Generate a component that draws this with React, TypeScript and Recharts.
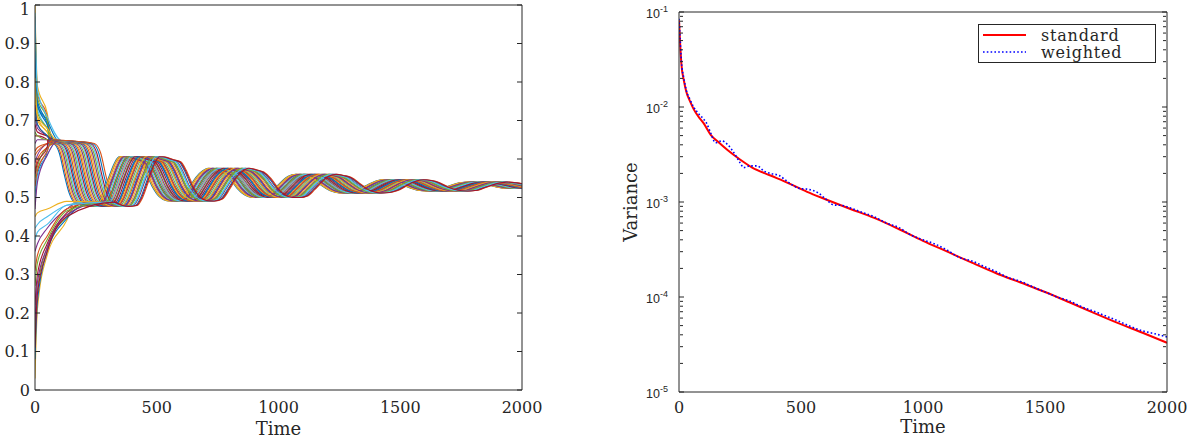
import { LineChart, Line, XAxis, YAxis, Legend } from 'recharts'

const ink = '#262626'
const serif = "'DejaVu Serif', serif"
const sans = "'Liberation Sans', Arial, sans-serif"

// MATLAB default colour order
const palette = ['#0072BD', '#D95319', '#EDB120', '#7E2F8E', '#77AC30', '#4DBEEE', '#A2142F']

const timeTicks = [0, 500, 1000, 1500, 2000]
const shareTicks = [0, 0.1, 0.2, 0.3, 0.4, 0.5, 0.6, 0.7, 0.8, 0.9, 1]
const decadeTicks = [1e-5, 1e-4, 1e-3, 1e-2, 1e-1]
const minorSteps = [2, 3, 4, 5, 6, 7, 8, 9]
const minorDecadeTicks = decadeTicks.slice(0, 4).flatMap(d => minorSteps.map(m => m * d))

// path of the first agent to switch; every other agent runs the same path later by its lag
const waveTime = [
  -170, -100, -40, 20, 60, 80, 100, 120, 140, 160,
  190, 220, 250, 270, 300, 330, 345, 365, 400, 430,
  450, 480, 510, 540, 570, 600, 630, 660, 690, 710,
  740, 770, 800, 830, 860, 890, 920, 950, 980, 1010,
  1040, 1070, 1100, 1130, 1170, 1210, 1250, 1290, 1320, 1360,
  1400, 1430, 1460, 1490, 1530, 1570, 1610, 1650, 1690, 1730,
  1770, 1810, 1850, 1890, 1930, 1970, 2000,
]
const waveValue = [
  0.652, 0.650, 0.648, 0.645, 0.642, 0.638, 0.615, 0.560, 0.512, 0.488,
  0.480, 0.477, 0.479, 0.497, 0.548, 0.594, 0.606, 0.605, 0.598, 0.592,
  0.572, 0.530, 0.502, 0.492, 0.491, 0.496, 0.522, 0.552, 0.570, 0.576,
  0.572, 0.566, 0.549, 0.524, 0.507, 0.500, 0.500, 0.504, 0.521, 0.540,
  0.555, 0.560, 0.557, 0.552, 0.534, 0.518, 0.512, 0.513, 0.518, 0.531,
  0.543, 0.546, 0.544, 0.539, 0.527, 0.519, 0.517, 0.519, 0.528, 0.536,
  0.540, 0.538, 0.534, 0.528, 0.524, 0.524, 0.526,
]

// agents that settle on the upper plateau before their first drop
const upperStart = [0.93, 0.62, 1.00, 0.71, 0.55, 0.86, 0.66, 0.51, 0.97, 0.77, 0.59, 0.84, 0.48, 0.69, 0.90, 0.57, 0.79, 0.64, 0.95, 0.52, 0.74, 0.88, 0.61, 0.81, 0.47, 0.67, 0.98, 0.56, 0.73, 0.53]
const upperAt10 = [0.74, 0.63, 0.79, 0.68, 0.58, 0.73, 0.66, 0.56, 0.77, 0.70, 0.61, 0.72, 0.55, 0.67, 0.75, 0.60, 0.71, 0.65, 0.76, 0.57, 0.69, 0.74, 0.62, 0.71, 0.54, 0.66, 0.78, 0.59, 0.69, 0.57]
const upperAt50 = [0.69, 0.64, 0.72, 0.66, 0.63, 0.68, 0.65, 0.62, 0.71, 0.67, 0.64, 0.68, 0.61, 0.66, 0.70, 0.63, 0.67, 0.65, 0.70, 0.62, 0.66, 0.69, 0.64, 0.68, 0.61, 0.65, 0.71, 0.63, 0.66, 0.62]
const upperLag = [0, 5, 11, 16, 22, 27, 33, 38, 44, 50, 55, 61, 66, 72, 78, 84, 89, 95, 101, 107, 112, 118, 124, 130, 136, 142, 148, 154, 162, 170]

// agents that start low and climb into the lower band
const lowerStart = [0.03, 0.36, 0.14, 0.42, 0.22, 0.08, 0.31, 0.45, 0.18, 0.27, 0.39, 0.11]
const lowerAt10 = [0.21, 0.38, 0.26, 0.43, 0.30, 0.23, 0.35, 0.46, 0.28, 0.33, 0.41, 0.25]
const lowerAt50 = [0.35, 0.42, 0.37, 0.45, 0.38, 0.36, 0.40, 0.47, 0.37, 0.39, 0.43, 0.36]
const lowerAt130 = [0.44, 0.47, 0.45, 0.48, 0.46, 0.445, 0.47, 0.49, 0.455, 0.465, 0.48, 0.45]
const lowerLag = [3, 19, 35, 47, 64, 80, 92, 110, 121, 139, 151, 166]

// variance of the two schemes
const standardTime = [0, 5, 10, 20, 30, 45, 60, 80, 100, 130, 160, 200, 250, 300, 375, 450, 525, 600, 700, 800, 900, 1000, 1100, 1200, 1300, 1400, 1500, 1600, 1700, 1800, 1900, 2000]
const standardVar = [0.082, 0.045, 0.028, 0.019, 0.0145, 0.0115, 0.0095, 0.0079, 0.0068, 0.0051, 0.0043, 0.0035, 0.0028, 0.0023, 0.0019, 0.00157, 0.00128, 0.00107, 0.00085, 0.00068, 0.00052, 0.00039, 0.0003, 0.00023, 0.000178, 0.000142, 0.000113, 0.000088, 0.000068, 0.000053, 0.000042, 0.000033]
const weightedTime = [0, 5, 10, 20, 30, 45, 60, 80, 100, 115, 130, 150, 175, 200, 225, 250, 265, 290, 320, 350, 375, 410, 450, 490, 535, 570, 600, 635, 670, 700, 750, 800, 850, 900, 950, 1000, 1050, 1100, 1150, 1200, 1250, 1300, 1350, 1400, 1450, 1500, 1550, 1600, 1650, 1700, 1750, 1800, 1850, 1900, 1950, 2000]
const weightedVar = [0.085, 0.05, 0.03, 0.02, 0.015, 0.012, 0.01, 0.0085, 0.0075, 0.0066, 0.0053, 0.0042, 0.0044, 0.004, 0.0033, 0.0026, 0.0023, 0.0024, 0.0024, 0.0021, 0.002, 0.0019, 0.0016, 0.0014, 0.00135, 0.00125, 0.00108, 0.00093, 0.00092, 0.00087, 0.00078, 0.0007, 0.0006, 0.00054, 0.00045, 0.0004, 0.00036, 0.00031, 0.00026, 0.00024, 0.00021, 0.000185, 0.00016, 0.000146, 0.000128, 0.000113, 0.0001, 0.000091, 0.000079, 0.000071, 0.000063, 0.000056, 0.000049, 0.000044, 0.000041, 0.000038]

const legendItems = [
  { name: 'standard', color: '#ff0000', width: 2, dash: undefined as string | undefined },
  { name: 'weighted', color: '#0000ff', width: 1.6, dash: '1.6 2.2' },
]

type Pt = { t: number; v: number }

function upperPath(i: number): Pt[] {
  const lag = upperLag[i]
  const pts: Pt[] = [
    { t: 0, v: upperStart[i] },
    { t: 10, v: upperAt10[i] },
    { t: 50, v: upperAt50[i] },
  ]
  waveTime.forEach((tau, j) => {
    if (tau + lag > 50) pts.push({ t: tau + lag, v: waveValue[j] })
  })
  return pts
}

function lowerPath(i: number): Pt[] {
  const lag = lowerLag[i]
  const pts: Pt[] = [
    { t: 0, v: lowerStart[i] },
    { t: 10, v: lowerAt10[i] },
    { t: 50, v: lowerAt50[i] },
    { t: 130, v: lowerAt130[i] },
  ]
  waveTime.forEach((tau, j) => {
    if (tau >= 160 && tau + lag > 130) pts.push({ t: tau + lag, v: waveValue[j] })
  })
  return pts
}

const agentPaths = [...upperLag.map((_, i) => upperPath(i)), ...lowerLag.map((_, i) => lowerPath(i))]

const standardSeries = standardTime.map((t, i) => ({ t, v: standardVar[i] }))
const weightedSeries = weightedTime.map((t, i) => ({ t, v: weightedVar[i] }))

const tickFont = { fill: ink, fontSize: 16, fontFamily: serif }

// tick marks only, no label
const NoLabel = () => <g />

// box around the axes with inward ticks on all four sides (mirrored axes take no room)
function frame(yTicks: number[], yDomain: number[], yScale: 'linear' | 'log', minor?: number[]) {
  const common = { allowDataOverflow: true, tick: NoLabel, interval: 0 as const, tickSize: 5, mirror: true }
  const items = [
    <XAxis key="top" xAxisId="top" orientation="top" type="number" domain={[0, 2000]} ticks={timeTicks}
      height={1} axisLine={{ stroke: ink }} tickLine={{ stroke: ink }} {...common} />,
    <XAxis key="bin" xAxisId="bin" orientation="bottom" type="number" domain={[0, 2000]} ticks={timeTicks}
      height={1} axisLine={false} tickLine={{ stroke: ink }} {...common} />,
    <YAxis key="lin" yAxisId="lin" orientation="left" type="number" scale={yScale} domain={yDomain} ticks={yTicks}
      width={1} axisLine={false} tickLine={{ stroke: ink }} {...common} />,
    <YAxis key="rin" yAxisId="rin" orientation="right" type="number" scale={yScale} domain={yDomain} ticks={yTicks}
      width={1} axisLine={{ stroke: ink }} tickLine={{ stroke: ink }} {...common} />,
  ]
  if (minor) {
    items.push(
      <YAxis key="lmin" yAxisId="lmin" orientation="left" type="number" scale={yScale} domain={yDomain} ticks={minor}
        width={1} axisLine={false} tickLine={{ stroke: ink }} {...common} tickSize={3} />,
      <YAxis key="rmin" yAxisId="rmin" orientation="right" type="number" scale={yScale} domain={yDomain} ticks={minor}
        width={1} axisLine={false} tickLine={{ stroke: ink }} {...common} tickSize={3} />,
    )
  }
  return items
}

// left labels; the top one is nudged down so it stays on the page
function ShareTick({ x, y, payload }: any) {
  return (
    <text x={x} y={Math.max(y, 9)} dy="0.355em" textAnchor="end" fill={ink} fontFamily={serif} fontSize={16}>
      {payload.value}
    </text>
  )
}

function PowerTick({ x, y, payload }: any) {
  const exp = Math.round(Math.log10(payload.value))
  return (
    <text x={x} y={y + 6} textAnchor="end" fill={ink} fontFamily={sans} fontSize={12.5}>
      10<tspan dy={-6} fontSize={9}>{exp}</tspan>
    </text>
  )
}

function VarianceLabel({ viewBox }: any) {
  const cx = viewBox.x + 30
  const cy = viewBox.y + viewBox.height / 2
  return (
    <text x={cx} y={cy} textAnchor="middle" dominantBaseline="central" transform={`rotate(-90, ${cx}, ${cy})`}
      fill={ink} fontFamily={serif} fontSize={18}>
      Variance
    </text>
  )
}

function LegendBox() {
  return (
    <svg width={178} height={39} style={{ display: 'block' }}>
      <rect x={0.5} y={0.5} width={177} height={38} fill="#fff" stroke={ink} />
      {legendItems.map((item, i) => (
        <g key={item.name}>
          <line x1={5} x2={48} y1={11 + 17 * i} y2={11 + 17 * i} stroke={item.color}
            strokeWidth={item.width} strokeDasharray={item.dash} />
          <text x={63} y={11 + 17 * i} dominantBaseline="central" fill={ink} fontFamily={serif} fontSize={16}
            letterSpacing={0.8}>
            {item.name}
          </text>
        </g>
      ))}
    </svg>
  )
}

function AgentsChart() {
  return (
    <LineChart width={560} height={444} margin={{ top: 5, right: 38, bottom: 0, left: 0 }}>
      <XAxis dataKey="t" type="number" domain={[0, 2000]} ticks={timeTicks} allowDataOverflow height={54}
        tickLine={false} tickSize={0} tickMargin={12} axisLine={{ stroke: ink }} tick={tickFont} interval={0}
        label={{ value: 'Time', position: 'insideBottom', offset: 9, fill: ink, fontSize: 18, fontFamily: serif }} />
      <YAxis type="number" domain={[0, 1]} ticks={shareTicks} allowDataOverflow width={35} interval={0}
        tickLine={false} tickSize={0} tickMargin={5} axisLine={{ stroke: ink }} tick={<ShareTick />} />
      {frame(shareTicks, [0, 1], 'linear')}
      {agentPaths.map((pts, k) => (
        <Line key={k} data={pts} dataKey="v" type="monotone" stroke={palette[k % palette.length]}
          strokeWidth={1.1} dot={false} activeDot={false} isAnimationActive={false} />
      ))}
    </LineChart>
  )
}

function VarianceChart() {
  return (
    <LineChart width={594} height={444} margin={{ top: 12, right: 27, bottom: 0, left: 0 }}>
      <XAxis dataKey="t" type="number" domain={[0, 2000]} ticks={timeTicks} allowDataOverflow height={52}
        tickLine={false} tickSize={0} tickMargin={10} axisLine={{ stroke: ink }} tick={tickFont} interval={0}
        label={{ value: 'Time', position: 'insideBottom', offset: 11, fill: ink, fontSize: 18, fontFamily: serif }} />
      <YAxis type="number" scale="log" domain={[1e-5, 1e-1]} ticks={decadeTicks} allowDataOverflow width={79}
        tickLine={false} tickSize={0} tickMargin={11} axisLine={{ stroke: ink }} tick={<PowerTick />} interval={0}
        label={<VarianceLabel />} />
      {frame(decadeTicks, [1e-5, 1e-1], 'log', minorDecadeTicks)}
      <Legend layout="vertical" align="center" verticalAlign="middle" content={() => <LegendBox />}
        wrapperStyle={{ top: 24, left: 378, width: 178, height: 39 }} />
      <Line data={standardSeries} dataKey="v" name="standard" type="monotone" stroke="#ff0000" strokeWidth={2}
        dot={false} activeDot={false} isAnimationActive={false} />
      <Line data={weightedSeries} dataKey="v" name="weighted" type="monotone" stroke="#0000ff" strokeWidth={1.6}
        strokeDasharray="1.6 2.2" dot={false} activeDot={false} isAnimationActive={false} />
    </LineChart>
  )
}

export default function App() {
  return (
    <div style={{ position: 'absolute', left: 0, top: 0, width: 1194, height: 444, background: '#fff' }}>
      <div style={{ position: 'absolute', left: 0, top: 0 }}>
        <AgentsChart />
      </div>
      <div style={{ position: 'absolute', left: 600, top: 0 }}>
        <VarianceChart />
      </div>
    </div>
  )
}
